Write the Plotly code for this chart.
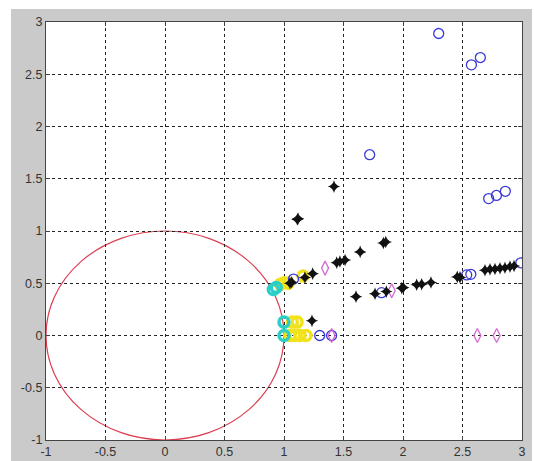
import plotly.graph_objects as go

# --- data -------------------------------------------------------------
blue_x = [2.30, 2.575, 2.65, 1.72, 2.72, 2.785, 2.86, 2.99, 2.535, 2.57, 1.82, 1.30, 1.40, 1.08]
blue_y = [2.89, 2.59, 2.66, 1.73, 1.31, 1.34, 1.38, 0.695, 0.58, 0.585, 0.41, 0.0, 0.0, 0.54]

star_x = [1.42, 1.112, 1.118, 1.835, 1.855, 1.64, 1.443, 1.47, 1.513, 1.176, 1.241,
          1.065, 1.05, 1.235, 1.605, 1.765, 1.86, 1.99, 2.003, 2.115, 2.157, 2.235,
          2.456, 2.479, 2.689, 2.731, 2.773, 2.815, 2.857, 2.899, 2.933]
star_y = [1.425, 1.11, 1.118, 0.885, 0.895, 0.80, 0.697, 0.708, 0.722, 0.555, 0.592,
          0.51, 0.50, 0.14, 0.372, 0.40, 0.42, 0.453, 0.46, 0.485, 0.491, 0.507,
          0.561, 0.556, 0.624, 0.633, 0.637, 0.643, 0.649, 0.659, 0.665]

magenta_x = [1.345, 1.905, 1.40, 2.625, 2.787]
magenta_y = [0.645, 0.428, 0.0, 0.0, 0.0]

cyan_x = [0.91, 0.935, 1.0, 1.0]
cyan_y = [0.44, 0.46, 0.128, 0.0]

yellow_x = [0.97, 1.0, 1.035, 1.16, 1.07, 1.11, 1.05, 1.09, 1.135, 1.185]
yellow_y = [0.49, 0.505, 0.50, 0.57, 0.128, 0.128, 0.0, 0.0, 0.0, 0.0]

x_ticks = [-1, -0.5, 0, 0.5, 1, 1.5, 2, 2.5, 3]
y_ticks = [-1, -0.5, 0, 0.5, 1, 1.5, 2, 2.5, 3]
x_range = [-1, 3]
y_range = [-1, 3]

# --- figure geometry (pixels) ------------------------------------------
W, H = 534, 461
L, R, T, B = 46, 12, 22, 21
pw, ph = W - L - R, H - T - B


def px_x(p):
    return (p - L) / pw


def px_y(p):
    return (H - B - p) / ph


fig = go.Figure()

fig.add_trace(go.Scatter(x=yellow_x, y=yellow_y, mode="markers",
                         marker=dict(symbol="circle-open", size=10, color="#f2e21c",
                                     line=dict(width=3.5, color="#f2e21c"))))
fig.add_trace(go.Scatter(x=cyan_x, y=cyan_y, mode="markers",
                         marker=dict(symbol="circle-open", size=10, color="#2ccfc6",
                                     line=dict(width=3.5, color="#2ccfc6"))))
fig.add_trace(go.Scatter(x=blue_x, y=blue_y, mode="markers",
                         marker=dict(symbol="circle-open", size=10, color="#3a3ad6",
                                     line=dict(width=1.3, color="#3a3ad6"))))
fig.add_trace(go.Scatter(x=magenta_x, y=magenta_y, mode="markers",
                         marker=dict(symbol="diamond-tall-open", size=10, color="#d46ad4",
                                     line=dict(width=1.3, color="#d46ad4"))))
fig.add_trace(go.Scatter(x=star_x, y=star_y, mode="markers",
                         marker=dict(symbol="star-diamond", size=9, color="#111111",
                                     line=dict(width=0))))

# grey figure backdrop, white axes area and the unit circle
fig.add_shape(type="rect", xref="paper", yref="paper", layer="below",
              x0=px_x(11), x1=px_x(532), y0=px_y(470), y1=px_y(9),
              fillcolor="#cacaca", line=dict(width=0))
fig.add_shape(type="rect", xref="paper", yref="paper", layer="below",
              x0=0, x1=1, y0=0, y1=1, fillcolor="white", line=dict(width=0))
fig.add_shape(type="circle", xref="x", yref="y", layer="below",
              x0=-1, x1=1, y0=-1, y1=1, line=dict(color="#dd3f52", width=1.2))

axis_common = dict(
    showgrid=True, gridcolor="#222222", gridwidth=1, griddash="3px,3px",
    zeroline=False, showline=True, linecolor="#444444", linewidth=1.2,
    mirror="ticks", ticks="inside", ticklen=4, tickcolor="#444444",
    tickfont=dict(family="Liberation Sans, Arial, sans-serif", size=12.5, color="#333333"),
)

fig.update_xaxes(range=x_range, tickvals=x_ticks, ticktext=[f"{v:g}" for v in x_ticks],
                 **axis_common)
fig.update_yaxes(range=y_range, tickvals=y_ticks, ticktext=[f"{v:g}" for v in y_ticks],
                 **axis_common)

fig.update_layout(
    width=W, height=H, showlegend=False,
    margin=dict(l=L, r=R, t=T, b=B, autoexpand=False),
    paper_bgcolor="white", plot_bgcolor="white",
)

fig.write_html("out.html")
